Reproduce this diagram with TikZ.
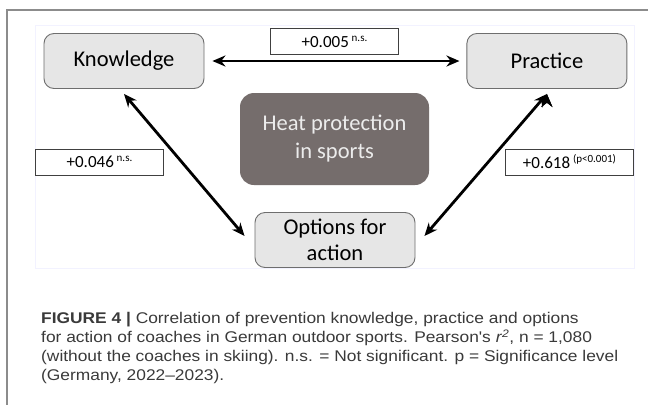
\documentclass[tikz,border=0pt]{standalone}
\usepackage{fontspec}
\setmainfont{Carlito}
\newfontfamily\capfont[FakeStretch=1.12]{Liberation Sans}
\usetikzlibrary{positioning, arrows.meta}

\definecolor{boxgray}{HTML}{E6E6E6}
\definecolor{boxline}{HTML}{6E6E6E}
\definecolor{heatgray}{HTML}{756D6C}
\definecolor{captext}{HTML}{3A3A3A}
\definecolor{framegray}{HTML}{8C8C8C}

\newcommand{\sig}[1]{\,\raisebox{6pt}{\fontsize{11}{11}\selectfont #1}}

\begin{document}
\begin{tikzpicture}[x=1pt, y=-1pt,
	box/.style={draw=boxline, fill=boxgray, rounded corners=10pt, line width=0.9pt,
		minimum width=160pt, minimum height=55pt, align=center,
		font=\fontsize{22.5}{26}\selectfont},
	corr/.style={draw=black!75, fill=white, line width=0.8pt, inner sep=0pt,
		minimum width=128pt, minimum height=26pt, font=\fontsize{17}{19}\selectfont},
	link/.style={{Stealth[length=13pt,width=11pt]}-{Stealth[length=13pt,width=11pt]}, line width=2.8pt}]
	\useasboundingbox (0,0) rectangle (648,405);
	\fill[white] (0,0) rectangle (648,405);

	% frame
	\draw[framegray, line width=1.2pt] (648,10) -- (7,10) -- (7,405);
	\draw[blue!5, line width=0.8pt] (35,25) rectangle (634,268);

	\node[box] (k) at (124,61) {Knowledge};
	\node[box, right=262pt of k] (p) {Practice};
	\node[box] (o) at (335,240) {Options for\\action};
	\node[box, draw=none, fill=heatgray, rounded corners=14pt, text=gray!15,
		minimum width=189pt, minimum height=92pt, font=\fontsize{22.5}{28}\selectfont] (h) at (334.5,139) {Heat protection\\in sports};

	\draw [link]
		([xshift=8pt]k.east) edge ([xshift=-7pt]p.west)
		([yshift=-5pt]k.south) edge ([xshift=-10pt,yshift=4pt]o.west)
		([yshift=-5pt]p.south) edge ([xshift=9pt,yshift=4pt]o.east)
		;

	\node[corr] (c1) at (334.5,41.5) {+0.005\sig{n.s.}};
	\node[corr] (c2) at (99.5,162) {+0.046\sig{n.s.}};
	\node[corr] (c3) at (569.5,162) {+0.618\sig{(p<0.001)}};

	% caption
	\node[anchor=west, inner sep=0pt, align=left, text=captext,
		font=\capfont\fontsize{15.5}{19}\selectfont] (cap) at (41,348)
		{\textbf{FIGURE 4 |} Correlation of prevention knowledge, practice and options\\
		for action of coaches in German outdoor sports. Pearson's \textit{r}\textsuperscript{\textit{2}}, n = 1,080\\
		(without the coaches in skiing). n.s. = Not significant. p = Significance level\\
		(Germany, 2022\textendash 2023).};
\end{tikzpicture}
\end{document}
